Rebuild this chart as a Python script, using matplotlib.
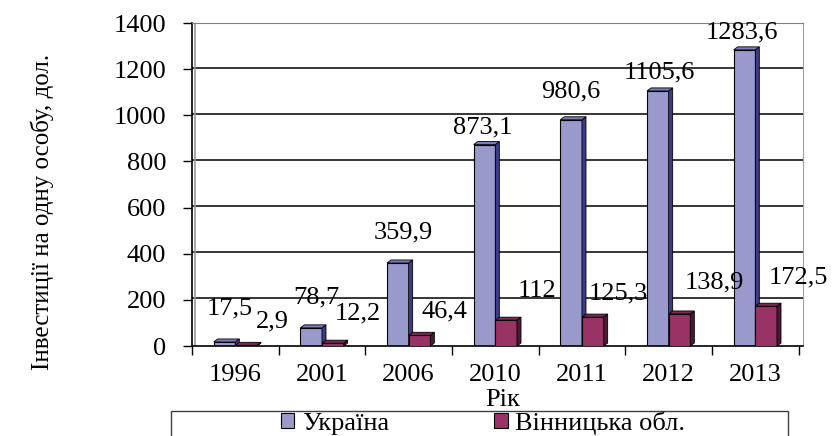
import matplotlib.pyplot as plt
from matplotlib.patches import Polygon, Rectangle
import numpy as np

plt.rcParams["font.family"] = ["Liberation Serif", "DejaVu Serif"]

years = ["1996", "2001", "2006", "2010", "2011", "2012", "2013"]
ukraine = [17.5, 78.7, 359.9, 873.1, 980.6, 1105.6, 1283.6]
vinnytsia = [2.9, 12.2, 46.4, 112, 125.3, 138.9, 172.5]
ukraine_labels = ["17,5", "78,7", "359,9", "873,1", "980,6", "1105,6", "1283,6"]
vinnytsia_labels = ["2,9", "12,2", "46,4", "112", "125,3", "138,9", "172,5"]

# label offsets in pixels from the top of each bar (Excel put them oddly)
ukr_off = [(5, 34), (5, 30), (5, 31), (-2, 17), (0, 28), (2, 18), (-3, 17)]
vin_off = [(26, 24), (25, 30), (25, 24), (31, 29), (25, 24), (35, 32), (32, 29)]

FS = 19
fig = plt.figure(figsize=(8.37, 4.36), dpi=100)
ax = fig.add_axes([192 / 837, 1 - 346 / 436, (803 - 192) / 837, (346 - 23) / 436])
ax.set_xlim(0, 7.05)
ax.set_ylim(0, 1400)

# depth of the fake 3d bars, in data units
ddx = 4 / 86.7
ddy = 3 * 1400 / 323
w = 0.25

def bar3d(xs, vals, front, side, top, z, label):
    ax.bar(xs, vals, width=w, color=front, edgecolor="black", linewidth=0.8,
           zorder=z, label=label)
    for x, v in zip(xs, vals):
        l, r = x - w / 2, x + w / 2
        ax.add_patch(Polygon([(r, 0), (r + ddx, ddy), (r + ddx, v + ddy), (r, v)],
                             closed=True, facecolor=side, edgecolor="black",
                             linewidth=0.6, zorder=z))
        ax.add_patch(Polygon([(l, v), (l + ddx, v + ddy), (r + ddx, v + ddy), (r, v)],
                             closed=True, facecolor=top, edgecolor="black",
                             linewidth=0.6, zorder=z))

idx = np.arange(len(years))
x_ukr = idx + 0.5 - w / 2
x_vin = idx + 0.5 + w / 2
bar3d(x_ukr, ukraine, "#9999CC", "#3C3C8A", "#7B7BBE", 2, "Україна")
bar3d(x_vin, vinnytsia, "#993366", "#4D1933", "#7A2952", 3, "Вінницька обл.")

for x, v, t, (dx, dy) in zip(x_ukr, ukraine, ukraine_labels, ukr_off):
    ax.annotate(t, (x, v), xytext=(dx, dy), textcoords="offset pixels",
                ha="center", va="center", fontsize=FS, zorder=5)
for x, v, t, (dx, dy) in zip(x_vin, vinnytsia, vinnytsia_labels, vin_off):
    ax.annotate(t, (x, v), xytext=(dx, dy), textcoords="offset pixels",
                ha="center", va="center", fontsize=FS, zorder=5)

# gridlines on the back wall
for g in range(200, 1401, 200):
    ax.axhline(g + ddy * 0.5, color="black", linewidth=1.1, zorder=0)
ax.axvline(ddx * 0.8, color="#999999", linewidth=1.2, zorder=0)

ax.spines["left"].set_color("black")
ax.spines["bottom"].set_color("black")
ax.spines["left"].set_linewidth(1.2)
ax.spines["bottom"].set_linewidth(1.2)
ax.spines["top"].set_color("#808080")
ax.spines["right"].set_color("#A0A0A0")

ax.set_yticks(range(0, 1401, 200))
ax.tick_params(axis="y", length=6.5, width=1, pad=12, labelsize=FS)
ax.set_xticks(range(0, 8))
ax.set_xticklabels([])
ax.set_xticks(idx + 0.5, minor=True)
ax.set_xticklabels(years, minor=True)
ax.tick_params(axis="x", which="major", length=6.5, width=1)
ax.tick_params(axis="x", which="minor", length=0, pad=13, labelsize=FS)

fig.text(42 / 837, 1 - 212 / 436, "Інвестиції на одну особу, дол.", rotation=90,
         ha="center", va="center", fontsize=18)
fig.text(503 / 837, 1 - 400 / 436, "Рік", ha="center", va="center", fontsize=FS)

handles, labels = ax.get_legend_handles_labels()
fig.legend(handles, labels, loc="center", bbox_to_anchor=(483 / 837, 1 - 423 / 436),
           ncol=2, frameon=False, fontsize=FS, handlelength=0.5, handleheight=0.5,
           handletextpad=0.3, columnspacing=4.0, borderpad=0, borderaxespad=0)
fig.patches.append(Rectangle((171 / 837, -0.1), (788 - 171) / 837, 0.1 + 1 - 411 / 436,
                             transform=fig.transFigure, fill=False,
                             edgecolor="#404040", linewidth=1))

fig.savefig("out.png", dpi=100)
